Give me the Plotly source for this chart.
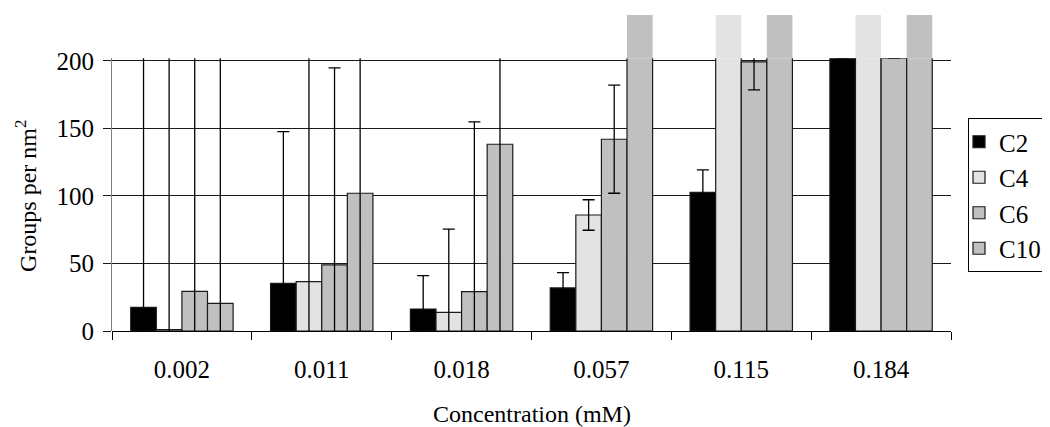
import plotly.graph_objects as go

# ---------------- data ----------------
categories = ["0.002", "0.011", "0.018", "0.057", "0.115", "0.184"]
series_names = ["C2", "C4", "C6", "C10"]

c2 = [17.5, 35.3, 16.3, 31.9, 102.7, 202]
c4 = [1.0, 36.5, 13.8, 85.9, 234, 234]
c6 = [29.4, 48.9, 29.1, 142.0, 199.3, 202]
c10 = [20.5, 102.0, 138.3, 234, 234, 234]

# symmetric error half-lengths (None = no error bar visible)
c2_err = [250, 112.3, 24.7, 11.3, 16.6, None]
c4_err = [250, 250, 61.7, 11.3, None, None]
c6_err = [250, 146.0, 125.7, 40.0, 20.8, None]
c10_err = [250, 250, 250, None, None, None]

y_ticks = [0, 50, 100, 150, 200]

# ---------------- styling ----------------
colors = ["#000000", "#e3e3e3", "#c0c0c0", "#c0c0c0"]
AXIS_MAX = 202      # top of the clipped plotting area
IMG_TOP = 234       # top of the overflowing bars
BAR_W = 0.183
offsets = [-2 * BAR_W, -BAR_W, 0.0, BAR_W]
FONT = "Liberation Serif"

# page body has an 8px margin; plot area wanted at x 112..951, y 15..331 (window px)
PX_L, PX_R, PX_T, PX_B = 112, 951, 15, 331
BODY = 8
W, H = 1050, 427
plot_w = PX_R - PX_L
plot_h = PX_B - PX_T

values = [c2, c4, c6, c10]
errors = [c2_err, c4_err, c6_err, c10_err]

fig = go.Figure()

# overflow parts (drawn in full-height subplot, no outline)
for name, vals, col, off in zip(series_names, values, colors, offsets):
    over = [max(v - AXIS_MAX, 0) for v in vals]
    fig.add_trace(go.Bar(
        x=categories, y=over, base=[AXIS_MAX] * len(vals),
        width=BAR_W, offset=off,
        marker=dict(color=col, line=dict(width=0)),
        showlegend=False, hoverinfo="skip",
        xaxis="x", yaxis="y",
    ))

# main (clipped) bars with error bars
for name, vals, errs, col, off in zip(series_names, values, errors, colors, offsets):
    fig.add_trace(go.Bar(
        name=name, x=categories, y=vals,
        width=BAR_W, offset=off,
        marker=dict(color=col, line=dict(color="#1a1a1a", width=1.2)),
        error_y=dict(type="data", array=errs, symmetric=True, visible=True,
                     color="#000000", thickness=1.3, width=6),
        legendgroup=name,
        xaxis="x", yaxis="y2",
    ))

fig.update_layout(
    width=W, height=H,
    margin=dict(l=PX_L - BODY, r=W - (PX_R - BODY), t=PX_T - BODY,
                b=H - (PX_B - BODY), autoexpand=False),
    paper_bgcolor="white", plot_bgcolor="rgba(0,0,0,0)",
    barmode="overlay",
    font=dict(family=FONT, size=25, color="black"),
    showlegend=True,
    legend=dict(
        x=(968 - PX_L) / plot_w, xanchor="left",
        y=(PX_B - 118) / plot_h, yanchor="top",
        bordercolor="black", borderwidth=1, bgcolor="white",
        font=dict(family=FONT, size=25, color="black"),
        tracegroupgap=8, traceorder="normal", indentation=-10,
    ),
    xaxis=dict(
        type="category", categoryorder="array", categoryarray=categories,
        anchor="y", showline=True, linecolor="black", linewidth=1,
        ticks="outside", tickson="boundaries", ticklen=8, tickcolor="black",
        tickfont=dict(family=FONT, size=25), showgrid=False,
        ticklabelstandoff=16, automargin=False,
    ),
    yaxis=dict(domain=[0, 1], range=[0, IMG_TOP], visible=False, fixedrange=True),
    yaxis2=dict(
        domain=[0, AXIS_MAX / IMG_TOP], range=[0, AXIS_MAX], anchor="x",
        tickvals=y_ticks, showgrid=True, gridcolor="#1a1a1a", gridwidth=1,
        ticks="outside", ticklen=8, tickcolor="#1a1a1a",
        showline=True, linecolor="#808080", linewidth=1, zeroline=False,
        tickfont=dict(family=FONT, size=25), ticklabelstandoff=4,
        automargin=False,
    ),
    annotations=[
        dict(text="Groups per nm<sup>2</sup>", textangle=-90,
             x=(26 - PX_L) / plot_w, xref="paper", y=100, yref="y2",
             xanchor="center", yanchor="middle", showarrow=False,
             font=dict(family=FONT, size=24)),
        dict(text="Concentration (mM)",
             x=0.5, xref="paper", y=(PX_B - 414) / plot_h, yref="paper",
             xanchor="center", yanchor="middle", showarrow=False,
             font=dict(family=FONT, size=24)),
    ],
)

fig.write_html("out.html")
